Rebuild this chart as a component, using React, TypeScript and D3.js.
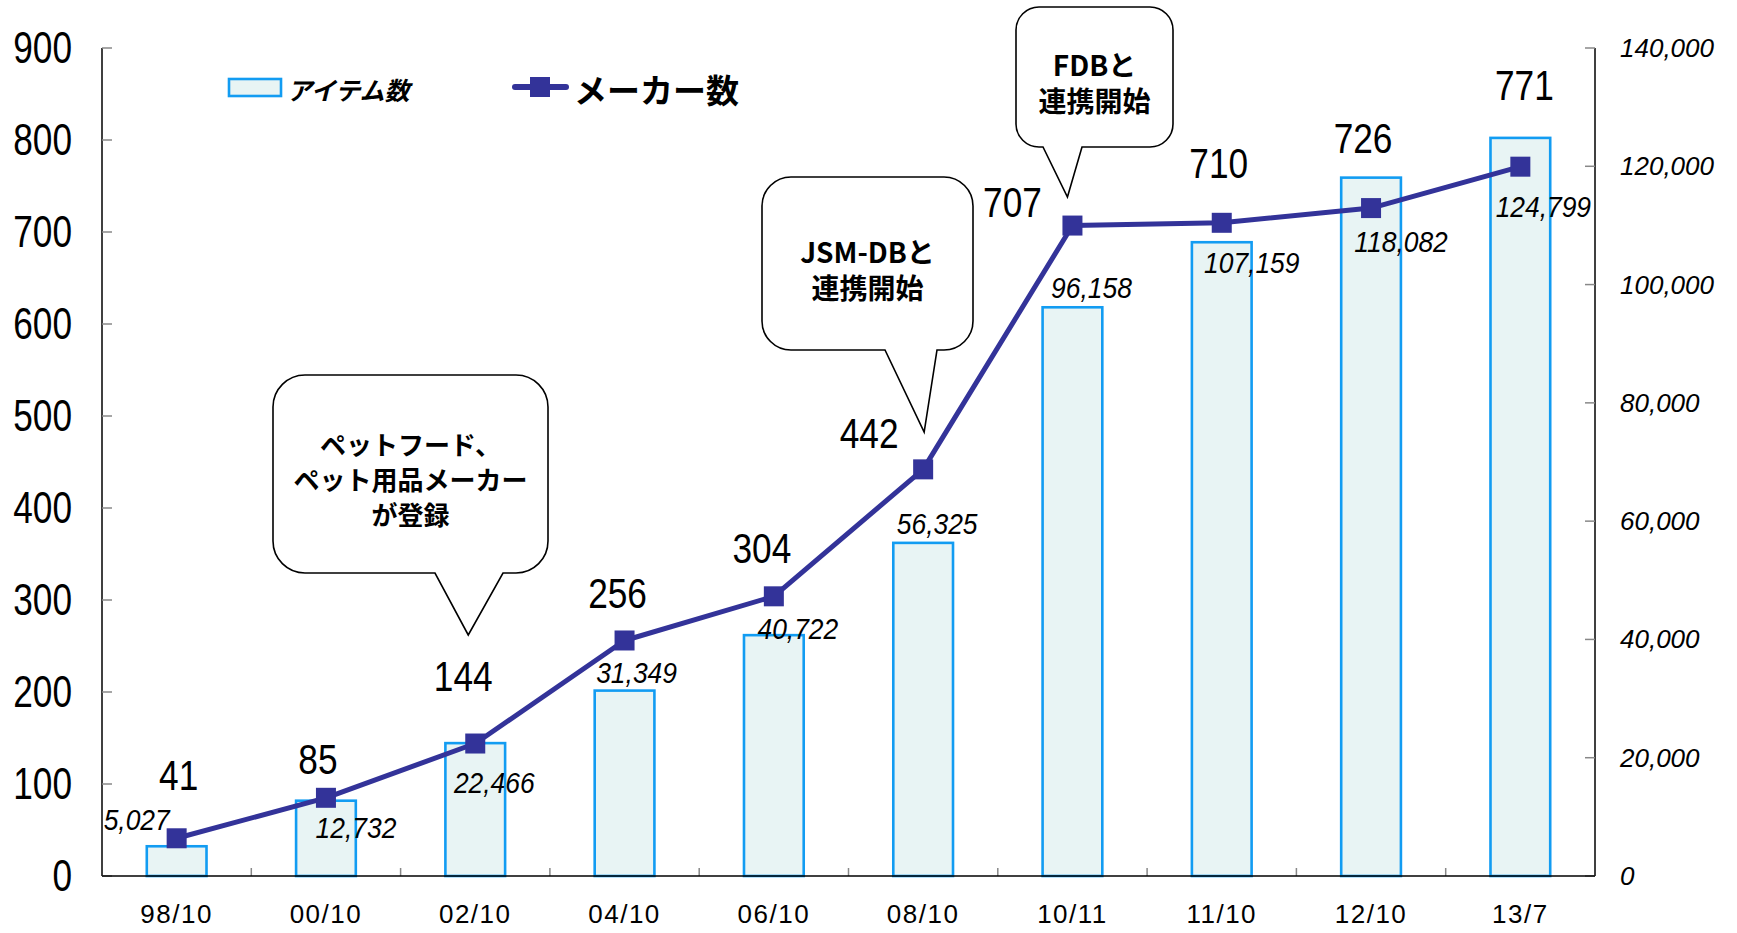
import React from 'react';
import * as d3 from 'd3';

const categories = ['98/10', '00/10', '02/10', '04/10', '06/10', '08/10', '10/11', '11/10', '12/10', '13/7'];
const itemCounts = [5027, 12732, 22466, 31349, 40722, 56325, 96158, 107159, 118082, 124799];
const makerCounts = [41, 85, 144, 256, 304, 442, 707, 710, 726, 771];
const leftTicks = [0, 100, 200, 300, 400, 500, 600, 700, 800, 900];
const rightTicks = [0, 20000, 40000, 60000, 80000, 100000, 120000, 140000];
const legendItem = 'アイテム数';
const legendMaker = 'メーカー数';

// label nudges (layout only), [dx, dy] from the mark
const makerLabelNudge = [[2, -48], [-8, -24], [-12, -53], [-7, -32], [-12, -33], [-54, -21], [-60, -9], [-3, -45], [-8, -55], [4, -67]];
const itemLabelNudge = [[-40, -16], [30, 37], [19, 50], [12, -8], [24, 4], [14, -9], [19, -9], [30, 31], [30, 74], [23, 79]];

const callouts = [
  { cat: '02/10', lines: ['ペットフード、', 'ペット用品メーカー', 'が登録'], box: [273, 375, 548, 573], tail: [435, 503], tip: [-7, 635], r: 32, fs: 26, lh: 35, mid: 478 },
  { cat: '08/10', lines: ['JSM-DBと', '連携開始'], box: [762, 177, 973, 350], tail: [885, 937], tip: [1, 432], r: 29, fs: 28, lh: 36.5, mid: 269 },
  { cat: '10/11', lines: ['FDBと', '連携開始'], box: [1016, 7, 1173, 147], tail: [1043, 1082], tip: [-5, 197], r: 23, fs: 28, lh: 36.5, mid: 82 },
];

const W = 1737;
const H = 933;
const X0 = 102;
const X1 = 1595;
const Y0 = 876;
const Y1 = 48;

const NUM_FONT = '"Liberation Sans", Arial, sans-serif';
const JP_FONT = '"Noto Sans CJK JP", "Noto Sans", sans-serif';
const LINE_COLOR = '#333399';
const BAR_STROKE = '#129CF2';
const BAR_FILL = '#E8F4F4';

function calloutPath(c: any, tipX: number) {
  const [x0, y0, x1, y1] = c.box;
  const r = c.r;
  const [tl, tr] = c.tail;
  const tipY = c.tip[1];
  return `M${x0 + r},${y0} H${x1 - r} A${r},${r} 0 0 1 ${x1},${y0 + r} V${y1 - r} A${r},${r} 0 0 1 ${x1 - r},${y1} H${tr} L${tipX},${tipY} L${tl},${y1} H${x0 + r} A${r},${r} 0 0 1 ${x0},${y1 - r} V${y0 + r} A${r},${r} 0 0 1 ${x0 + r},${y0} Z`;
}

export default function App() {
  const x = d3.scaleBand<string>().domain(categories).range([X0, X1]).paddingInner(0).paddingOuter(0);
  const bw = x.bandwidth();
  const cx = (c: string) => (x(c) as number) + bw / 2;
  const yL = d3.scaleLinear().domain([0, 900]).range([Y0, Y1]);
  const yR = d3.scaleLinear().domain([0, 140000]).range([Y0, Y1]);
  const barW = bw * 0.4;

  const line = d3
    .line<number>()
    .x((_, i) => cx(categories[i]))
    .y((d) => yL(d));

  const fmt = d3.format(',');

  return (
    <svg
      width={W}
      height={H}
      viewBox={`0 0 ${W} ${H}`}
      style={{ position: 'absolute', left: 0, top: 0, background: '#fff' }}
    >
      <rect x={0} y={0} width={W} height={H} fill="#fff" />

      {/* bars */}
      {itemCounts.map((v, i) => (
        <rect
          key={'b' + i}
          x={cx(categories[i]) - barW / 2}
          y={yR(v)}
          width={barW}
          height={Y0 - yR(v)}
          fill={BAR_FILL}
          stroke={BAR_STROKE}
          strokeWidth={2.6}
        />
      ))}

      {/* axes */}
      <line x1={X0} y1={Y1} x2={X0} y2={Y0} stroke="#000" strokeWidth={1.5} />
      <line x1={X1} y1={Y1} x2={X1} y2={Y0} stroke="#000" strokeWidth={1.5} />
      {leftTicks.map((t) => (
        <line key={'lt' + t} x1={X0} x2={X0 + 10} y1={yL(t)} y2={yL(t)} stroke="#888" strokeWidth={1.5} />
      ))}
      {rightTicks.map((t) => (
        <line key={'rt' + t} x1={X1 - 10} x2={X1} y1={yR(t)} y2={yR(t)} stroke="#888" strokeWidth={1.5} />
      ))}
      {categories.slice(1).map((c) => (
        <line key={'xt' + c} x1={x(c) as number} x2={x(c) as number} y1={Y0} y2={Y0 - 8} stroke="#888" strokeWidth={1.5} />
      ))}
      <line x1={X0} y1={Y0} x2={X1} y2={Y0} stroke="#000" strokeWidth={1.5} />

      {/* left tick labels */}
      {leftTicks.map((t) => (
        <text
          key={'ll' + t}
          transform={`translate(72,${yL(t)}) scale(0.8,1)`}
          textAnchor="end"
          dominantBaseline="central"
          fontFamily={NUM_FONT}
          fontSize={44}
          fill="#000"
        >
          {t}
        </text>
      ))}

      {/* right tick labels */}
      {rightTicks.map((t) => (
        <text
          key={'rl' + t}
          x={1620}
          y={yR(t)}
          textAnchor="start"
          dominantBaseline="central"
          fontFamily={NUM_FONT}
          fontStyle="italic"
          fontSize={26}
          fill="#000"
        >
          {fmt(t)}
        </text>
      ))}

      {/* category labels */}
      {categories.map((c) => (
        <text
          key={'cl' + c}
          x={cx(c)}
          y={923}
          textAnchor="middle"
          fontFamily={NUM_FONT}
          fontSize={26}
          letterSpacing={1.5}
          fill="#000"
        >
          {c}
        </text>
      ))}

      {/* line */}
      <path d={line(makerCounts) || ''} fill="none" stroke={LINE_COLOR} strokeWidth={5} strokeLinejoin="round" />
      {makerCounts.map((v, i) => (
        <rect key={'m' + i} x={cx(categories[i]) - 10} y={yL(v) - 10} width={20} height={20} fill={LINE_COLOR} />
      ))}

      {/* item labels */}
      {itemCounts.map((v, i) => (
        <text
          key={'il' + i}
          transform={`translate(${cx(categories[i]) + itemLabelNudge[i][0]},${yR(v) + itemLabelNudge[i][1]}) scale(0.88,1)`}
          textAnchor="middle"
          fontFamily={NUM_FONT}
          fontStyle="italic"
          fontSize={30}
          fill="#000"
        >
          {fmt(v)}
        </text>
      ))}

      {/* maker labels */}
      {makerCounts.map((v, i) => (
        <text
          key={'ml' + i}
          transform={`translate(${cx(categories[i]) + makerLabelNudge[i][0]},${yL(v) + makerLabelNudge[i][1]}) scale(0.82,1)`}
          textAnchor="middle"
          fontFamily={NUM_FONT}
          fontSize={43}
          fill="#000"
        >
          {v}
        </text>
      ))}

      {/* callouts */}
      {callouts.map((c, k) => {
        const tipX = cx(c.cat) + c.tip[0];
        const midX = (c.box[0] + c.box[2]) / 2;
        const n = c.lines.length;
        return (
          <g key={'co' + k}>
            <path d={calloutPath(c, tipX)} fill="#fff" stroke="#000" strokeWidth={1.6} strokeLinejoin="miter" />
            <text
              textAnchor="middle"
              dominantBaseline="central"
              fontFamily={JP_FONT}
              fontWeight="bold"
              fontSize={c.fs}
              fill="#000"
            >
              {c.lines.map((ln, j) => (
                <tspan key={j} x={midX} y={c.mid + (j - (n - 1) / 2) * c.lh}>
                  {ln}
                </tspan>
              ))}
            </text>
          </g>
        );
      })}

      {/* legend */}
      <rect x={229} y={79} width={52} height={17} fill={BAR_FILL} stroke={BAR_STROKE} strokeWidth={2.6} />
      <text x={287} y={88.5} dominantBaseline="central" fontFamily={JP_FONT} fontStyle="italic" fontWeight="bold" fontSize={25} fill="#000">
        {legendItem}
      </text>
      <line x1={515} x2={566} y1={87} y2={87} stroke={LINE_COLOR} strokeWidth={6} strokeLinecap="round" />
      <rect x={530} y={77} width={20} height={20} fill={LINE_COLOR} />
      <text x={574} y={89} dominantBaseline="central" fontFamily={JP_FONT} fontWeight="bold" fontSize={33} fill="#000">
        {legendMaker}
      </text>
    </svg>
  );
}
